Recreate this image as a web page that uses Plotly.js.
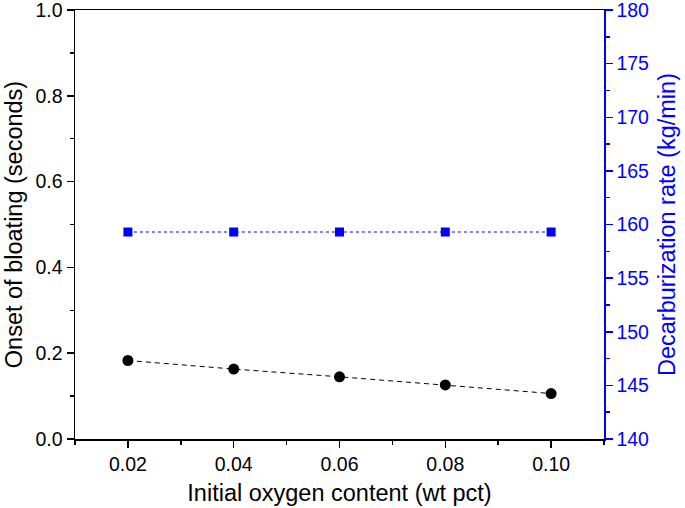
<!DOCTYPE html>
<html>
<head>
<meta charset="utf-8">
<script src="https://cdn.plot.ly/plotly-3.0.1.min.js"></script>
<style>html,body{margin:0;padding:0;background:#fff;}#chart{width:685px;height:508px;}</style>
</head>
<body>
<div id="chart"></div>
<script>
const oxygen = [0.02, 0.04, 0.06, 0.08, 0.10];
const onsetBloating = [0.183, 0.163, 0.145, 0.126, 0.106];
const decarbRate = [159.3, 159.3, 159.3, 159.3, 159.3];
const xTickVals = [0.02, 0.04, 0.06, 0.08, 0.10];
const xTickText = ["0.02", "0.04", "0.06", "0.08", "0.10"];

const font = "Liberation Sans, Arial, sans-serif";
const tickSize = 19.5;
const titleSize = 23.5;

const traces = [
  {
    x: oxygen, y: onsetBloating, type: 'scatter', mode: 'lines+markers',
    line: {color: '#000', width: 1, dash: '5px,4px'},
    marker: {color: '#000', size: 11, symbol: 'circle'},
    yaxis: 'y', showlegend: false
  },
  {
    x: oxygen, y: decarbRate, type: 'scatter', mode: 'lines+markers',
    line: {color: '#0000ff', width: 1.2, dash: 'dot'},
    marker: {color: '#0000ff', size: 9, symbol: 'square'},
    yaxis: 'y2', showlegend: false
  }
];

const layout = {
  width: 685, height: 508,
  margin: {l: 75, r: 81, t: 10, b: 68.5},
  paper_bgcolor: '#fff', plot_bgcolor: '#fff',
  font: {family: font, color: '#000', size: tickSize},
  xaxis: {
    range: [0.01, 0.11], tickvals: xTickVals, ticktext: xTickText,
    showline: true, linecolor: '#000', linewidth: 1.5, mirror: true,
    ticks: 'outside', ticklen: 7, tickwidth: 1.5, tickcolor: '#000',
    minor: {tickvals: [0.01, 0.03, 0.05, 0.07, 0.09, 0.11], ticks: 'outside', ticklen: 4, tickwidth: 1.5, tickcolor: '#000'},
    showgrid: false, zeroline: false, ticklabeloverflow: 'allow',
    tickfont: {size: tickSize, family: font},
    title: {text: 'Initial oxygen content (wt pct)', font: {size: titleSize, family: font}, standoff: 10}
  },
  yaxis: {
    range: [0, 1], dtick: 0.2, tickformat: '.1f',
    showline: true, linecolor: '#000', linewidth: 1.5,
    ticks: 'outside', ticklen: 7, tickwidth: 1.5, tickcolor: '#000',
    minor: {dtick: 0.1, ticks: 'outside', ticklen: 4, tickwidth: 1.5, tickcolor: '#000'},
    showgrid: false, zeroline: false, ticklabeloverflow: 'allow',
    tickfont: {size: tickSize, family: font},
    title: {text: 'Onset of bloating (seconds)', font: {size: titleSize, family: font}, standoff: 6}
  },
  yaxis2: {
    range: [140, 180], dtick: 5, overlaying: 'y', side: 'right',
    showline: true, linecolor: '#0000ff', linewidth: 1.5,
    ticks: 'outside', ticklen: 7, tickwidth: 1.5, tickcolor: '#0000ff',
    minor: {dtick: 2.5, ticks: 'outside', ticklen: 4, tickwidth: 1.5, tickcolor: '#0000ff'},
    showgrid: false, zeroline: false, ticklabeloverflow: 'allow',
    tickfont: {size: tickSize, family: font, color: '#0000ff'},
    title: {text: 'Decarburization rate (kg/min)', font: {size: titleSize, family: font, color: '#0000ff'}, standoff: 10}
  }
};

Plotly.newPlot('chart', traces, layout, {displayModeBar: false, staticPlot: true});
</script>
</body>
</html>
